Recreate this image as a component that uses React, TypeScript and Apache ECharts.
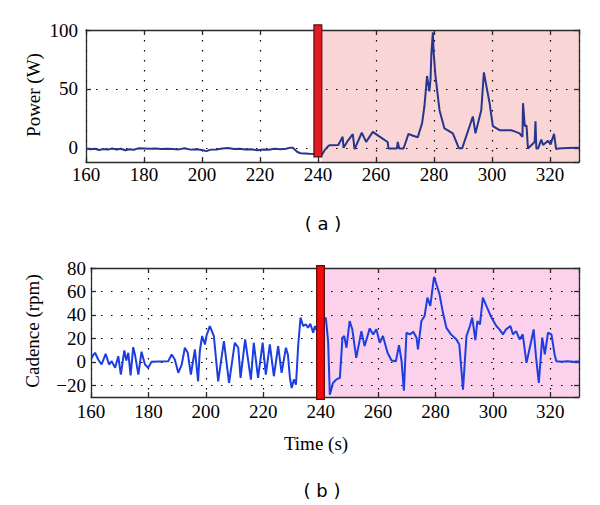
import React, { useEffect, useRef } from "react";
import * as echarts from "echarts";

// ---- Data ----
const xMin = 160;
const xMax = 330;
const xStep = 20;

const powerMin = -12;
const powerMax = 100;
const powerStep = 50;

const cadMin = -30;
const cadMax = 80;
const cadStep = 20;

// Marker (red bar) time span and vertical extent in data units
const markerSpan = [238.6, 241.3];
const powerMarkerY = [-7.7, 104.3];
const cadMarkerY = [-32, 82];

// Shaded "active" region
const activeSpan = [241.3, 330];

const powerT = [
  160, 161.5, 163, 164.5, 166, 167.5, 169, 170.5, 172, 173.5, 175, 176.5, 178, 180, 182, 184, 186, 188, 190, 192,
  194, 196, 198, 200, 201.5, 203, 205, 207, 209, 211, 213, 215, 217, 219, 221, 223, 225, 227, 229, 230.5, 231.3,
  232.9, 234, 235.5, 237, 239, 240.5, 241.3, 242.3, 243.5, 244.1, 247, 248.5, 248.8, 250, 252, 252.6, 255.1, 256.6,
  258.9, 261, 264, 264.3, 267.2, 267.5, 268, 269.5, 271.2, 272.5, 274.4, 275.9, 276.7, 277.6, 278.4, 278.8, 279.1,
  279.6, 279.9, 280.5, 281.9, 283.6, 286.5, 288.6, 289.7, 293.4, 294.3, 296.3, 297.2, 297.8, 299.2, 300.3, 302.6,
  306.6, 307.8, 309.5, 310.5, 310.7, 311.3, 311.9, 312.4, 314.7, 315, 315.3, 315.9, 317, 317.6, 319.3, 320.2, 321.4,
  322.1, 322.9, 326, 330,
];
const powerW = [
  -0.5, -1.2, -0.8, -1.8, -1, -1.5, -0.6, -1.4, -0.8, -2, -1.2, -1.6, -0.4, -0.6, -0.8, -0.5, -0.9, -0.7, -1, -1.3,
  -0.4, -1.5, -1.2, -1.8, -2.8, -1.5, -1.4, -0.6, -0.2, -1, -0.8, -1.3, -1.1, -2, -1.4, -1.6, -0.8, -1.2, -0.8, 0.2,
  0, -3.5, -4.6, -4.8, -5, -5.2, -5.3, -6, -2, 1.5, 2.3, 2.5, 9.4, 0, 5, 11.7, -1.1, 12.8, 5.1, 13.6, 10, 5, -0.5,
  -0.5, 5, -0.5, -0.5, 11.9, 10.5, 9, 21, 35.3, 61, 48, 58, 80, 98, 80, 61, 32, 16.5, 12.3, -0.4, -0.4, 26.6, 12.3,
  32, 64, 56, 37.6, 18.4, 15, 15, 14, 12.3, 9.4, 37.9, 18.4, 19, -0.5, 5, 22.6, -0.5, -0.5, 7, 2.5, 6, 3, 11.9,
  -1.1, -0.5, -0.2, 0,
];

const cadT = [
  160.2, 160.8, 161.4, 162.5, 163.7, 165.1, 166.3, 167.2, 168.4, 169.5, 170.4, 171.6, 172.3, 173, 173.8, 174.7, 175.3,
  176.5, 177.6, 178.8, 179.9, 181.1, 184, 186.9, 188.1, 189.2, 190.4, 191.6, 192.7, 193.7, 194.8, 196.2, 197.3, 197.9,
  198.7, 199.7, 200.2, 201.4, 202.8, 204.3, 206.3, 208.1, 210.1, 211.3, 212.1, 213.7, 215.7, 216.7, 218.2, 219.8,
  220.9, 222.3, 223.7, 225.2, 226.4, 227.9, 228.6, 229.3, 229.9, 230.7, 231.4, 232.2, 233, 233.9, 234.8, 235.6, 236.4,
  237.4, 238, 238.8, 240, 241.8, 242.6, 243.2, 244.3, 245.5, 246.7, 247.6, 248.2, 249, 250.1, 251, 252.4, 254.2, 255.3,
  257.1, 258.3, 259.4, 260.6, 261.7, 263.3, 264.7, 266.2, 267.3, 268.2, 269, 269.9, 271.1, 272.3, 273.4, 273.9, 275.1,
  276.2, 277.2, 278.2, 279.5, 280.5, 281.4, 282.6, 283.8, 285.4, 287.3, 288.3, 289.6, 290.8, 292, 292.8, 293.9, 294.6,
  295.5, 296.5, 297.5, 299.5, 301.2, 302.3, 303.5, 304.6, 306.1, 307, 308.1, 309.3, 310.4, 311.7, 313.1, 314.2, 315,
  316, 317.2, 318.1, 319.2, 320.4, 321.5, 322.1, 324, 326, 328, 330,
];
const cadRpm = [
  3, 6, 7.7, 2, -2.3, 6.8, -2.3, 0.5, -5, 4.8, -10.9, 9.7, 1.1, 7.7, -11.5, 12.5, 6.3, -10.9, 8.6, -2.3, -5, 0, 0.3,
  0.5, 6.3, 2, -9.4, -2.3, 12, 7.7, -10.9, 10.5, -16.6, 9, 22, 14.8, 22, 30.5, 22, -16.6, 17.7, -18, 16.3, 12,
  -13.7, 19.1, -15.2, 16.3, -13.7, 16.3, -10.9, 14.8, -12.3, 13.4, -9.4, 12, 6, -13.7, -22.3, -15, -19.5, 14.8,
  37.7, 30.5, 32, 29, 32.5, 24.8, 30.5, 26, 30, 37.7, 17.7, -28, -18, -15, -13.7, 20.6, 22, 12, 34.8, 28, 3.4,
  26.2, 13.4, 28.5, 23.4, 27.7, 16.3, 22, 7.7, 1.1, 0.5, 14.2, 0.5, -24.6, 24.8, 23.4, 25.7, 20.6, 10.5, 34.8, 39,
  54.8, 47.6, 72.5, 64.8, 57.7, 42, 29, 23.4, 19.1, 14.8, -23.7, 22, 30.5, 37.7, 18.5, 34.8, 32, 54.8, 49, 37.7,
  30.5, 27.7, 23.4, 27.7, 30.5, 23.4, 26.2, 19.1, 23.4, -0.9, 14.8, 27.7, 4.8, -18, 20.6, 6.3, 24.8, 23.4, 6.3,
  0.5, 0, 0.5, 0, 0.3,
];

const serif = "'Liberation Serif', 'Times New Roman', serif";

export default function App() {
  const ref = useRef<HTMLDivElement>(null);

  useEffect(() => {
    if (!ref.current) return;
    const chart = echarts.init(ref.current, undefined, { renderer: "svg" });

    const dotted = { type: [1.5, 8.5], color: "#000", width: 1.2 };
    const axisLineStyle = { color: "#2a2a2a", width: 1.3 };

    const xPair = (gridIndex: number, margin: number) => [
      {
        type: "value",
        gridIndex,
        position: "bottom",
        min: xMin,
        max: xMax,
        interval: xStep,
        z: 1,
        axisLine: { show: true, onZero: false, lineStyle: axisLineStyle },
        axisTick: { show: true, inside: true, length: 5, lineStyle: axisLineStyle },
        axisLabel: { show: true, margin, fontFamily: serif, fontSize: 19, color: "#000", showMaxLabel: false },
        splitLine: { show: true, lineStyle: dotted },
      },
      {
        type: "value",
        gridIndex,
        position: "top",
        min: xMin,
        max: xMax,
        interval: xStep,
        z: 1,
        axisLine: { show: true, onZero: false, lineStyle: axisLineStyle },
        axisTick: { show: true, inside: true, length: 5, lineStyle: axisLineStyle },
        axisLabel: { show: false },
        splitLine: { show: false },
      },
    ];

    const yPair = (gridIndex: number, min: number, max: number, step: number, margin: number) => [
      {
        type: "value",
        gridIndex,
        position: "left",
        min,
        max,
        minInterval: step,
        maxInterval: step,
        splitNumber: 2,
        z: 1,
        axisLine: { show: true, onZero: false, lineStyle: axisLineStyle },
        axisTick: { show: true, inside: true, length: 5, lineStyle: axisLineStyle },
        axisLabel: {
          show: true,
          margin,
          fontFamily: serif,
          fontSize: 19,
          color: "#000",
          showMinLabel: false,
          formatter: (v: number) => (v < 0 ? "\u2212" + Math.abs(v) : String(v)),
        },
        splitLine: { show: true, lineStyle: dotted },
      },
      {
        type: "value",
        gridIndex,
        position: "right",
        min,
        max,
        minInterval: step,
        maxInterval: step,
        splitNumber: 2,
        z: 1,
        axisLine: { show: true, onZero: false, lineStyle: axisLineStyle },
        axisTick: { show: true, inside: true, length: 5, lineStyle: axisLineStyle },
        axisLabel: { show: false },
        splitLine: { show: false },
      },
    ];

    const rectItem = (fill: string, stroke: string | null) => (params: any, api: any) => {
      const p0 = api.coord([api.value(0), api.value(3)]);
      const p1 = api.coord([api.value(1), api.value(2)]);
      return {
        type: "rect",
        shape: { x: p0[0], y: p0[1], width: p1[0] - p0[0], height: p1[1] - p0[1] },
        style: stroke ? { fill, stroke, lineWidth: 1.2 } : { fill },
      };
    };

    const option: any = {
      animation: false,
      grid: [
        { left: 86, top: 30, width: 493, height: 132 },
        { left: 91, top: 268, width: 488, height: 129 },
      ],
      xAxis: [...xPair(0, 3), ...xPair(1, 5)],
      yAxis: [...yPair(0, powerMin, powerMax, powerStep, 8), ...yPair(1, cadMin, cadMax, cadStep, 5)],
      series: [
        {
          type: "custom",
          xAxisIndex: 0,
          yAxisIndex: 0,
          z: 0,
          silent: true,
          encode: { x: [0, 1], y: [2, 3] },
          data: [[activeSpan[0], activeSpan[1], powerMin, powerMax]],
          renderItem: rectItem("#f9d5d6", null),
        },
        {
          type: "custom",
          xAxisIndex: 2,
          yAxisIndex: 2,
          z: 0,
          silent: true,
          encode: { x: [0, 1], y: [2, 3] },
          data: [[activeSpan[0], activeSpan[1], cadMin, cadMax]],
          renderItem: rectItem("#fbd1ec", null),
        },
        {
          type: "line",
          xAxisIndex: 0,
          yAxisIndex: 0,
          z: 2,
          symbol: "none",
          showSymbol: false,
          clip: true,
          data: powerT.map((t, i) => [t, powerW[i]]),
          lineStyle: { color: "#27358e", width: 2 },
        },
        {
          type: "line",
          xAxisIndex: 2,
          yAxisIndex: 2,
          z: 2,
          symbol: "none",
          showSymbol: false,
          clip: true,
          data: cadT.map((t, i) => [t, cadRpm[i]]),
          lineStyle: { color: "#1d3ee0", width: 2 },
        },
        {
          type: "custom",
          xAxisIndex: 0,
          yAxisIndex: 0,
          z: 3,
          silent: true,
          clip: false,
          encode: { x: [0, 1], y: [2, 3] },
          data: [[markerSpan[0], markerSpan[1], powerMarkerY[0], powerMarkerY[1]]],
          renderItem: rectItem("#e31b23", "#5a0d0d"),
        },
        {
          type: "custom",
          xAxisIndex: 2,
          yAxisIndex: 2,
          z: 3,
          silent: true,
          clip: false,
          encode: { x: [0, 1], y: [2, 3] },
          data: [[markerSpan[0], markerSpan[1], cadMarkerY[0], cadMarkerY[1]]],
          renderItem: rectItem("#f00a0a", "#5a0d0d"),
        },
      ],
      graphic: [
        {
          type: "text",
          x: 33,
          y: 95,
          rotation: Math.PI / 2,
          style: { text: "Power (W)", font: `19px ${serif}`, fill: "#000", align: "center", verticalAlign: "middle" },
        },
        {
          type: "text",
          x: 32,
          y: 331,
          rotation: Math.PI / 2,
          style: { text: "Cadence (rpm)", font: `19px ${serif}`, fill: "#000", align: "center", verticalAlign: "middle" },
        },
        {
          type: "text",
          x: 316,
          y: 443,
          style: { text: "Time (s)", font: `19px ${serif}`, fill: "#000", align: "center", verticalAlign: "middle" },
        },
        {
          type: "text",
          x: 323,
          y: 223,
          style: { text: "( a )", font: "18px 'DejaVu Sans', sans-serif", fill: "#000", align: "center", verticalAlign: "middle" },
        },
        {
          type: "text",
          x: 322,
          y: 490,
          style: { text: "( b )", font: "18px 'DejaVu Sans', sans-serif", fill: "#000", align: "center", verticalAlign: "middle" },
        },
      ],
    };

    chart.setOption(option);
    return () => chart.dispose();
  }, []);

  return (
    <div
      ref={ref}
      style={{ position: "fixed", left: 0, top: 0, width: 600, height: 505, background: "#fff" }}
    />
  );
}
